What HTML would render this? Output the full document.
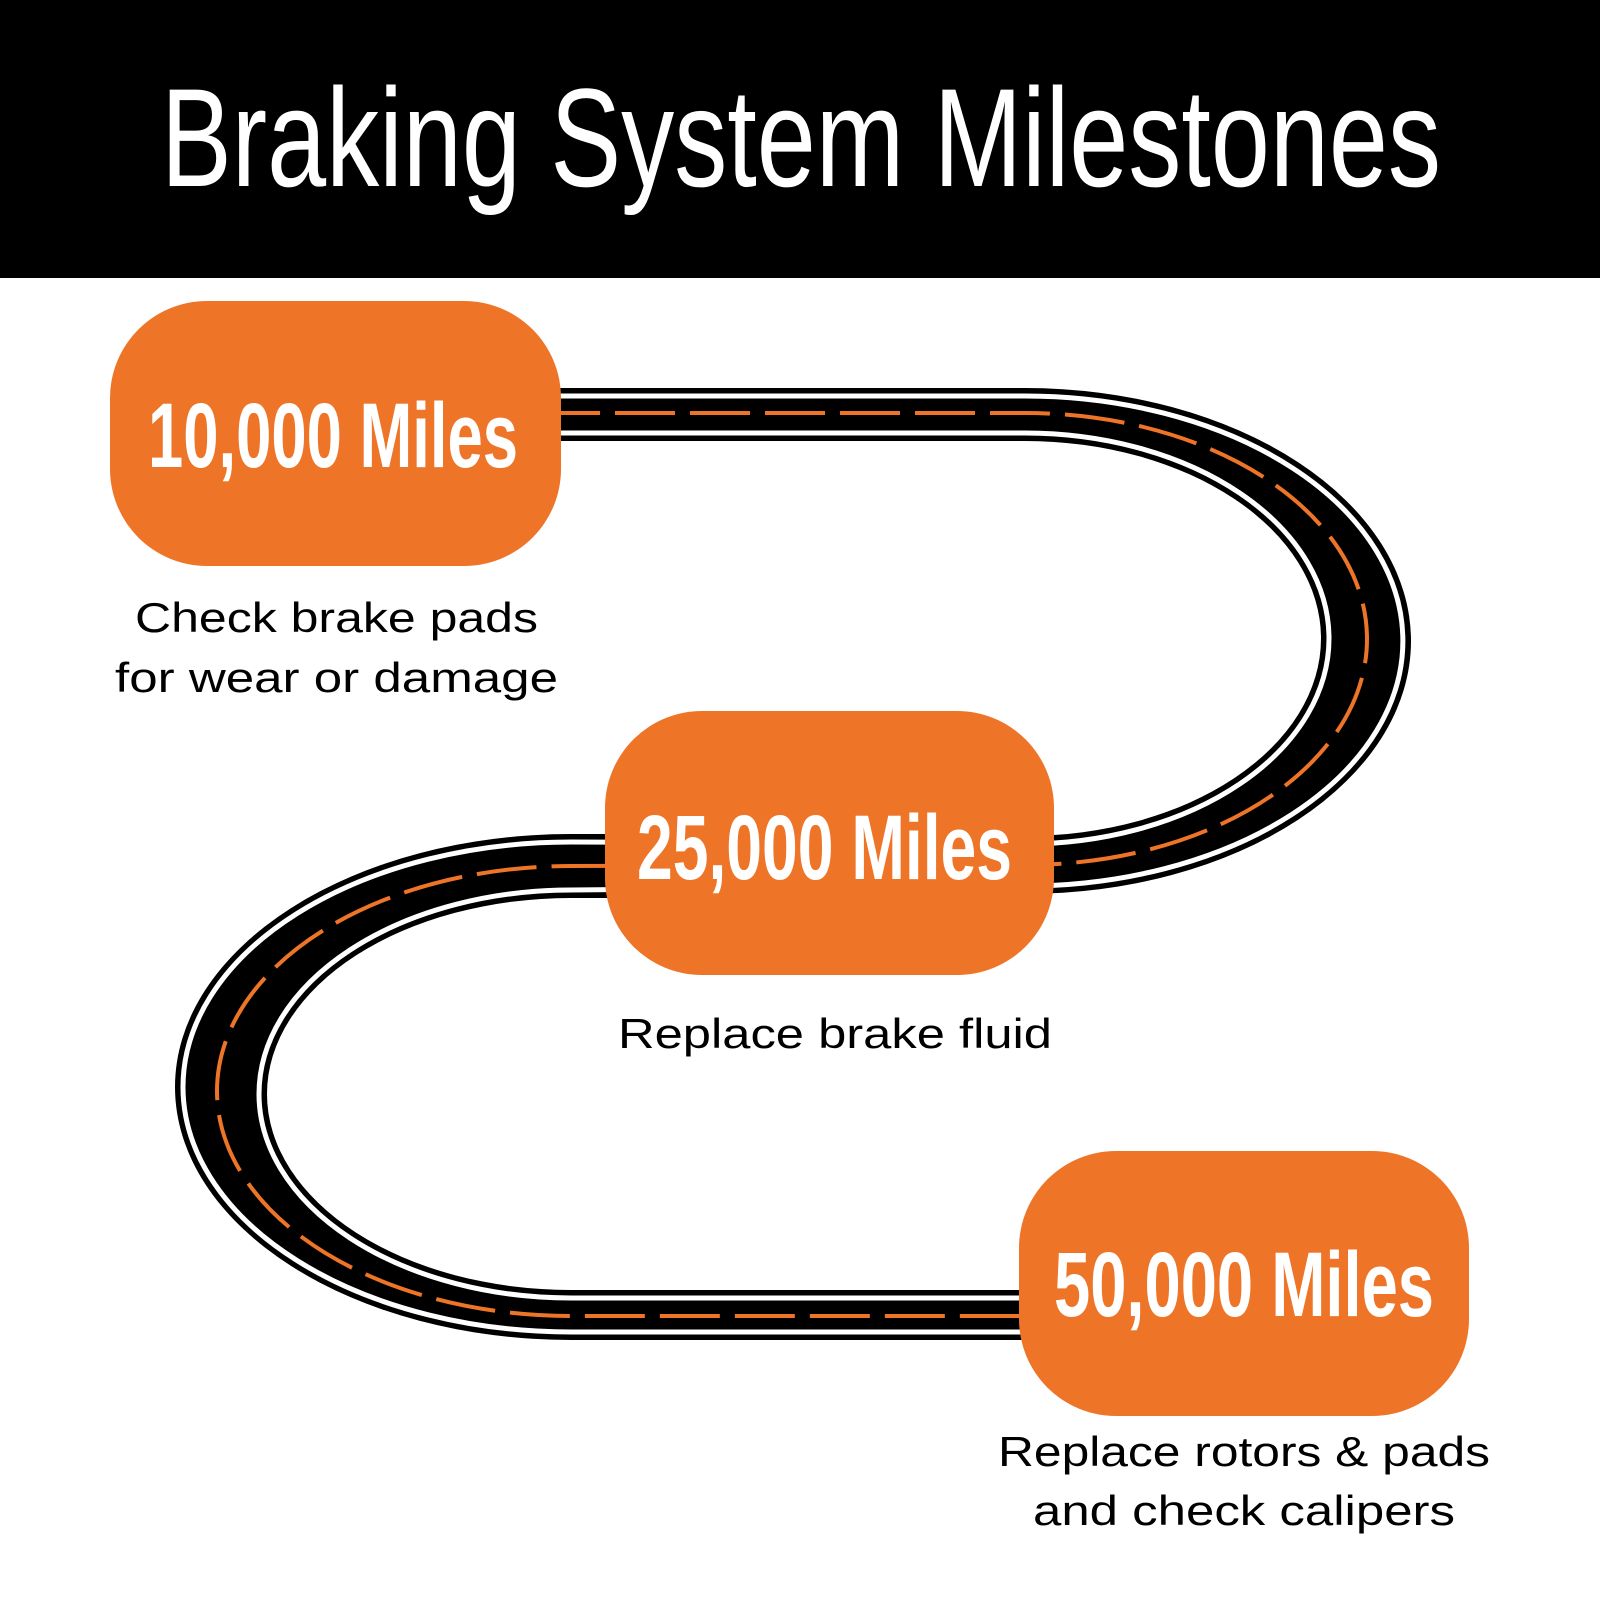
<!DOCTYPE html>
<html><head><meta charset="utf-8"><style>
html,body{margin:0;padding:0;background:#fff;}
svg{display:block}
</style></head><body>
<svg width="1600" height="1600" viewBox="0 0 1600 1600" xmlns="http://www.w3.org/2000/svg">
<rect x="0" y="0" width="1600" height="278" fill="#000"/>
<text x="161" y="186" font-family="'Liberation Sans Narrow','Liberation Sans',sans-serif" font-size="140" fill="#fff" textLength="1280" lengthAdjust="spacingAndGlyphs">Braking System Milestones</text>

<!-- right curve -->
<path d="M540 388 L1025 388 A386 253 0 0 1 1025 894 L571 894 L571 441 L540 441 Z" fill="#000"/>
<path d="M571 441 L1025 441 A296 197.5 0 0 1 1025 836 L571 836 Z" fill="#fff"/>
<!-- left curve -->
<path d="M1040 834 L571 834 A396 253 0 0 0 571 1340 L1040 1340 Z" fill="#000"/>
<path d="M1040 898 L571 898 A304 196 0 0 0 571 1290 L1040 1290 Z" fill="#fff"/>

<g fill="none" stroke="#fff" stroke-width="5">
<path d="M540 396 L1025 396 A378 245 0 0 1 1025 886 L571 890 A312 204 0 0 0 571 1298 L1040 1298"/>
<path d="M540 433 L1025 433 A304 205.5 0 0 1 1025 844 L571 842 A388 245 0 0 0 571 1332 L1040 1332"/>
</g>
<path d="M540 413 L1025 413 A342 226 0 0 1 1025 865 L571 866 A354 225 0 0 0 571 1316 L1040 1316" fill="none" stroke="#EE7427" stroke-width="4" stroke-dasharray="60 15"/>

<rect x="110" y="301" width="451" height="265" rx="97" fill="#EE7427"/>
<rect x="605" y="711" width="449" height="264" rx="97" fill="#EE7427"/>
<rect x="1019" y="1151" width="450" height="265" rx="97" fill="#EE7427"/>

<g font-family="'Liberation Sans Narrow','Liberation Sans',sans-serif" font-weight="bold" font-size="92" fill="#fff">
<text x="148" y="467" textLength="370" lengthAdjust="spacingAndGlyphs">10,000 Miles</text>
<text x="637" y="879" textLength="375" lengthAdjust="spacingAndGlyphs">25,000 Miles</text>
<text x="1054" y="1316" textLength="380" lengthAdjust="spacingAndGlyphs">50,000 Miles</text>
</g>

<g font-family="'Liberation Sans',sans-serif" font-size="42" fill="#000">
<text x="135" y="632" textLength="403" lengthAdjust="spacingAndGlyphs">Check brake pads</text>
<text x="115" y="692" textLength="443" lengthAdjust="spacingAndGlyphs">for wear or damage</text>
<text x="618" y="1048" textLength="434" lengthAdjust="spacingAndGlyphs">Replace brake fluid</text>
<text x="998" y="1466" textLength="492" lengthAdjust="spacingAndGlyphs">Replace rotors &amp; pads</text>
<text x="1033" y="1525" textLength="422" lengthAdjust="spacingAndGlyphs">and check calipers</text>
</g>
</svg>
</body></html>
